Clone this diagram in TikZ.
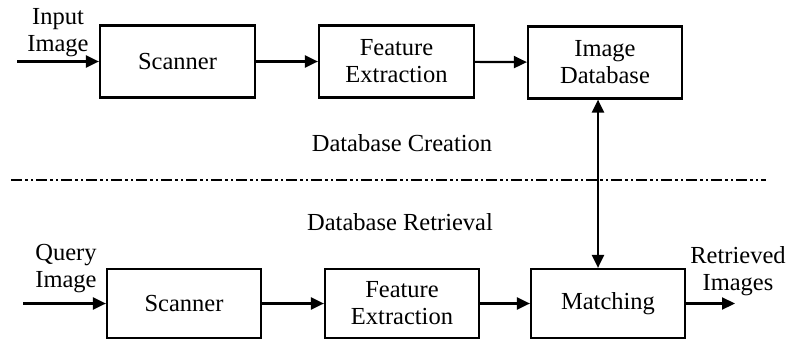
\documentclass[tikz,border=0pt]{standalone}
\usepackage{fontspec}
\setmainfont{Liberation Serif}
\usetikzlibrary{arrows.meta}
\begin{document}
\begin{tikzpicture}[x=1pt,y=-1pt,
  blk/.style={draw,line width=2.2pt,minimum height=72pt,inner sep=0pt,
    align=center,font=\fontsize{24.5}{27}\selectfont},
  lbl/.style={align=center,inner sep=0pt,font=\fontsize{24.5}{27}\selectfont},
  flow/.style={line width=2.2pt,-{Triangle[length=13pt,width=12pt]}},
  both/.style={line width=2.2pt,{Triangle[length=13pt,width=12pt]}-{Triangle[length=13pt,width=12pt]}},
  divider/.style={line width=2pt,dash pattern=on 11pt off 3pt on 3pt off 3pt on 2pt off 3pt}]
\useasboundingbox (0,0) rectangle (790,343);
% database creation row
\node[blk,minimum width=155pt] (scan1) at (177.5,61.5) {Scanner};
\node[blk,minimum width=155pt] (feat1) at (396.5,61.5) {Feature\\Extraction};
\node[blk,minimum width=154pt] (db) at (605,62.5) {Image\\Database};
\coordinate (in1) at (17,61.5);
\node[lbl] (inlbl) at (58,33) {Input\\Image};
\draw[flow] (in1) -- (scan1);
\draw[flow] (scan1) -- (feat1);
\draw[flow] (feat1) -- (db);
% section captions and divider
\node[lbl] (cap1) at (402,143) {Database Creation};
\node[lbl] (cap2) at (400,222) {Database Retrieval};
\coordinate (dl) at (11,180);
\coordinate (dr) at (766,180);
\draw[divider] (dl) -- (dr);
% database retrieval row
\node[blk,minimum width=154pt,minimum height=69pt] (scan2) at (184,303.5) {Scanner};
\node[blk,minimum width=154pt,minimum height=69pt] (feat2) at (402,303.5) {Feature\\Extraction};
\node[blk,minimum width=154pt,minimum height=69pt] (match) at (608,303.5) {Matching};
\coordinate (in2) at (23,303.5);
\coordinate (out) at (735,303.5);
\node[lbl] (qlbl) at (66,269) {Query\\Image};
\node[lbl] (rlbl) at (738,271) {Retrieved\\Images};
\draw[flow] (in2) -- (scan2);
\draw[flow] (scan2) -- (feat2);
\draw[flow] (feat2) -- (match);
\draw[flow] (match) -- (out);
% link between the image database and matching
\draw[both] (db.south -| 598,0) -- (match.north -| 598,0);
\end{tikzpicture}
\end{document}
